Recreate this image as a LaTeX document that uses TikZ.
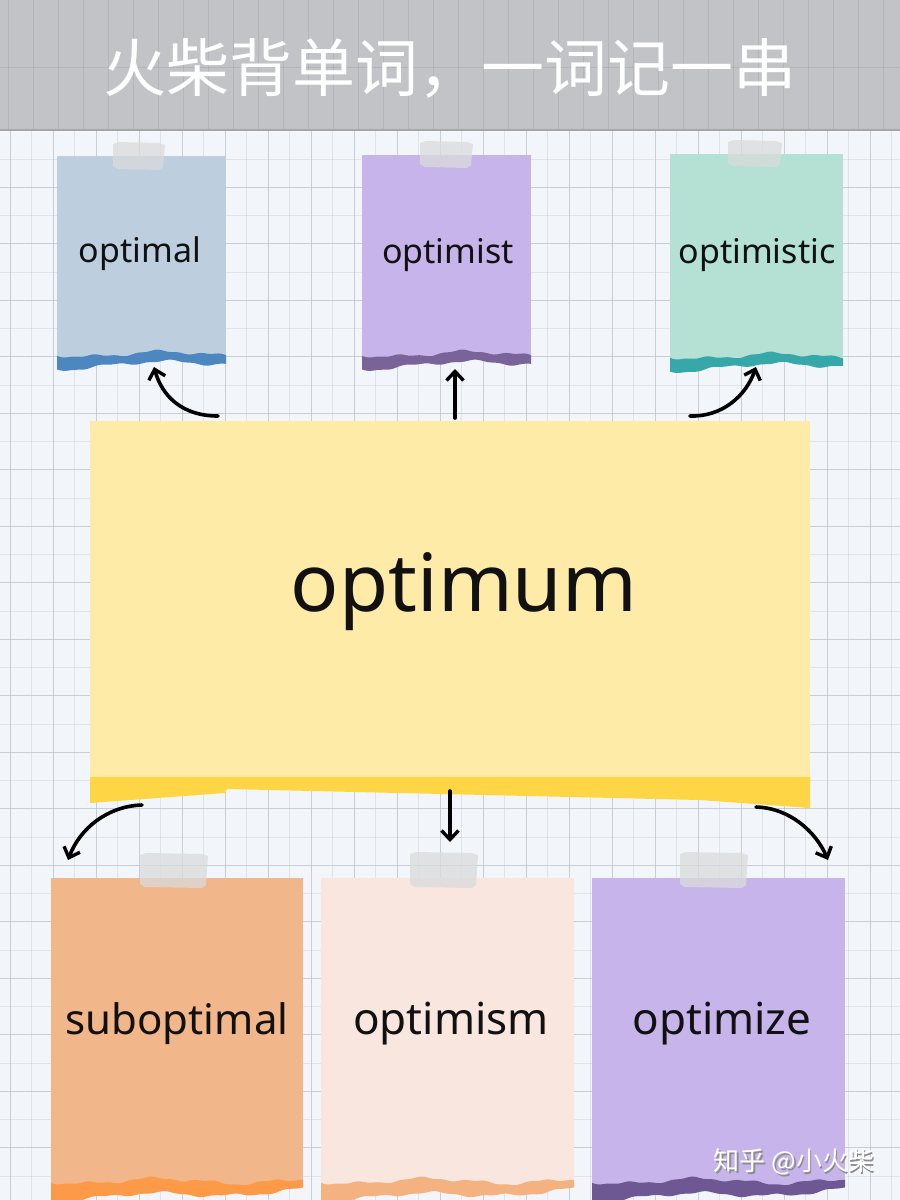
\documentclass[tikz,border=0pt]{standalone}
\usepackage{fontspec}
\setmainfont{Noto Sans}
\newfontfamily\cjk{Noto Sans CJK SC}
\usetikzlibrary{arrows.meta,calc}
\definecolor{bgc}{HTML}{F2F5FA}
\definecolor{titlegray}{HTML}{C2C3C7}
\definecolor{gridc}{HTML}{BFC4CC}
\definecolor{blueP}{HTML}{BDCFDF}\definecolor{blueE}{HTML}{4D87BF}
\definecolor{lilacP}{HTML}{C7B4EA}\definecolor{lilacE}{HTML}{7A6399}
\definecolor{mintP}{HTML}{B4E1D3}\definecolor{mintE}{HTML}{36A8A9}
\definecolor{mainP}{HTML}{FEEBA7}\definecolor{mainE}{HTML}{FED545}
\definecolor{orangeP}{HTML}{F1B68A}\definecolor{orangeE}{HTML}{FD9A48}
\definecolor{peachP}{HTML}{F9E6DF}\definecolor{peachE}{HTML}{F3B27F}
\definecolor{violetP}{HTML}{C7B4EB}\definecolor{violetE}{HTML}{6E5893}
\definecolor{tapeC}{HTML}{DADBDB}
\definecolor{inkc}{HTML}{111111}
% x1, width, y, colour, half-thickness
\newcommand\tornband[5]{%
  \fill[#4] plot[domain=0:#2,samples=90] ({#1+\x},{#3-#5+2.5*sin(2.3*\x+20)+1.5*sin(6*\x+40)+0.6*sin(17*\x)})
  -- plot[domain=#2:0,samples=90] ({#1+\x},{#3+#5+2.5*sin(2.1*\x+70)+1.5*sin(5.5*\x)+0.6*sin(15*\x+10)+0.03*(#2-\x)}) -- cycle;}
\newcommand\tapepiece[4]{%
  \fill[tapeC,opacity=0.75] (#1,#2+2) -- (#1+6,#2) -- (#3-6,#2+1) -- (#3,#2+3) -- (#3-2,#4-3) -- (#3-6,#4) -- (#1+5,#4-1) -- (#1,#4-4) -- cycle;}
\begin{document}
\begin{tikzpicture}[x=1pt,y=-1pt,
  paper/.style={rectangle,inner sep=0pt,outer sep=0pt,draw=none},
  word/.style={text=inkc,inner sep=0pt},
  arr/.style={line width=3.6pt,draw=black,line cap=round,-{Straight Barb[length=9pt,width=17pt,line width=3.4pt]}},
  gridline/.style={gridc,line width=0.7pt,opacity=0.8},
  gridminor/.style={gridc,line width=0.4pt,opacity=0.35},
  titlegrid/.style={black,line width=0.6pt,opacity=0.07}]
\useasboundingbox (0,0) rectangle (900,1200);
\fill[bgc] (0,0) rectangle (900,1200);
\foreach \i in {0,...,21} \draw[gridminor] ({\i*43+31.5},0) -- ({\i*43+31.5},1200);
\foreach \j in {0,...,21} \draw[gridminor] (0,{\j*56.5+45.75}) -- (900,{\j*56.5+45.75});
\foreach \i in {0,...,21} \draw[gridline] ({\i*43+10},0) -- ({\i*43+10},1200);
\foreach \j in {0,...,21} \draw[gridline] (0,{\j*56.5+17.5}) -- (900,{\j*56.5+17.5});
\fill[titlegray] (0,0) rectangle (900,130);
\foreach \i in {0,...,35} \draw[titlegrid] ({\i*25+8},0) -- ({\i*25+8},130);
\draw[titlegrid] (0,67) -- (900,67);
\draw[gray!70,line width=2pt] (0,130) -- (900,130);
\node[text=white,font=\cjk\fontsize{63}{68}\selectfont] (title) at (450,68) {火柴背单词，一词记一串};

% top notes
\node[paper,fill=blueP,minimum width=169pt,minimum height=202pt] (n1) at (141.5,257) {};
\tornband{57}{169}{358}{blueE}{4}
\node[paper,fill=lilacP,minimum width=169pt,minimum height=203pt] (n2) at (446.5,256.5) {};
\tornband{362}{169}{358}{lilacE}{4}
\node[paper,fill=mintP,minimum width=173pt,minimum height=206pt] (n3) at (756.5,257) {};
\tornband{670}{173}{360}{mintE}{4}
\tapepiece{113}{142}{165}{170}
\tapepiece{420}{141}{473}{168}
\tapepiece{728}{140}{782}{167}
\node[word,font=\fontsize{34}{40}\selectfont] (t1) at (140,254) {optimal};
\node[word,font=\fontsize{34}{40}\selectfont] (t2) at (448,255) {optimist};
\node[word,font=\fontsize{34}{40}\selectfont] (t3) at (757,255) {optimistic};

% main note
\node[paper,fill=mainP,minimum width=720pt,minimum height=357pt] (main) at (450,599) {};
\fill[mainE] (90,777) -- (810,777) -- (810,808) -- (700,800) -- (227,789) -- (225,793) -- (90,803) -- cycle;
\node[word,font=\fontsize{80}{90}\selectfont] (tm) at (464,592) {optimum};

% bottom notes
\node[paper,fill=orangeP,minimum width=252pt,minimum height=307pt] (b1) at (177,1031.5) {};
\tornband{51}{252}{1186}{orangeE}{5}
\node[paper,fill=peachP,minimum width=253pt,minimum height=307pt] (b2) at (447.5,1031.5) {};
\tornband{321}{253}{1186}{peachE}{5}
\node[paper,fill=violetP,minimum width=253pt,minimum height=307pt] (b3) at (718.5,1031.5) {};
\tornband{592}{253}{1186}{violetE}{5}
\tapepiece{140}{853}{208}{888}
\tapepiece{410}{852}{478}{888}
\tapepiece{680}{852}{748}{888}
\node[word,font=\fontsize{42}{48}\selectfont] (s1) at (177,1024) {suboptimal};
\node[word,font=\fontsize{44}{50}\selectfont] (s2) at (451,1024) {optimism};
\node[word,font=\fontsize{44}{50}\selectfont] (s3) at (722,1024) {optimize};

% arrow end points
\coordinate (a1s) at (218,416); \coordinate (a1e) at (154,367);
\coordinate (a2s) at (455,418); \coordinate (a2e) at (455,369);
\coordinate (a3s) at (690,416); \coordinate (a3e) at (756,367);
\coordinate (a4s) at (142,805); \coordinate (a4e) at (68,860);
\coordinate (a5s) at (450,791); \coordinate (a5e) at (450,842);
\coordinate (a6s) at (756,807); \coordinate (a6e) at (828,860);
\draw[arr] (a1s) .. controls (182,416) and (162,396) .. (a1e);
\draw[arr] (a2s) -- (a2e);
\draw[arr] (a3s) .. controls (722,417) and (746,396) .. (a3e);
\draw[arr] (a4s) .. controls (108,806) and (80,828) .. (a4e);
\draw[arr] (a5s) -- (a5e);
\draw[arr] (a6s) .. controls (790,808) and (816,832) .. (a6e);

% watermark
\node[text=black!45,font=\cjk\fontsize{26}{30}\selectfont] at (795.5,1163.5) {知乎 @小火柴};
\node[text=white,font=\cjk\fontsize{26}{30}\selectfont] (wm) at (794,1162) {知乎 @小火柴};
\end{tikzpicture}
\end{document}
